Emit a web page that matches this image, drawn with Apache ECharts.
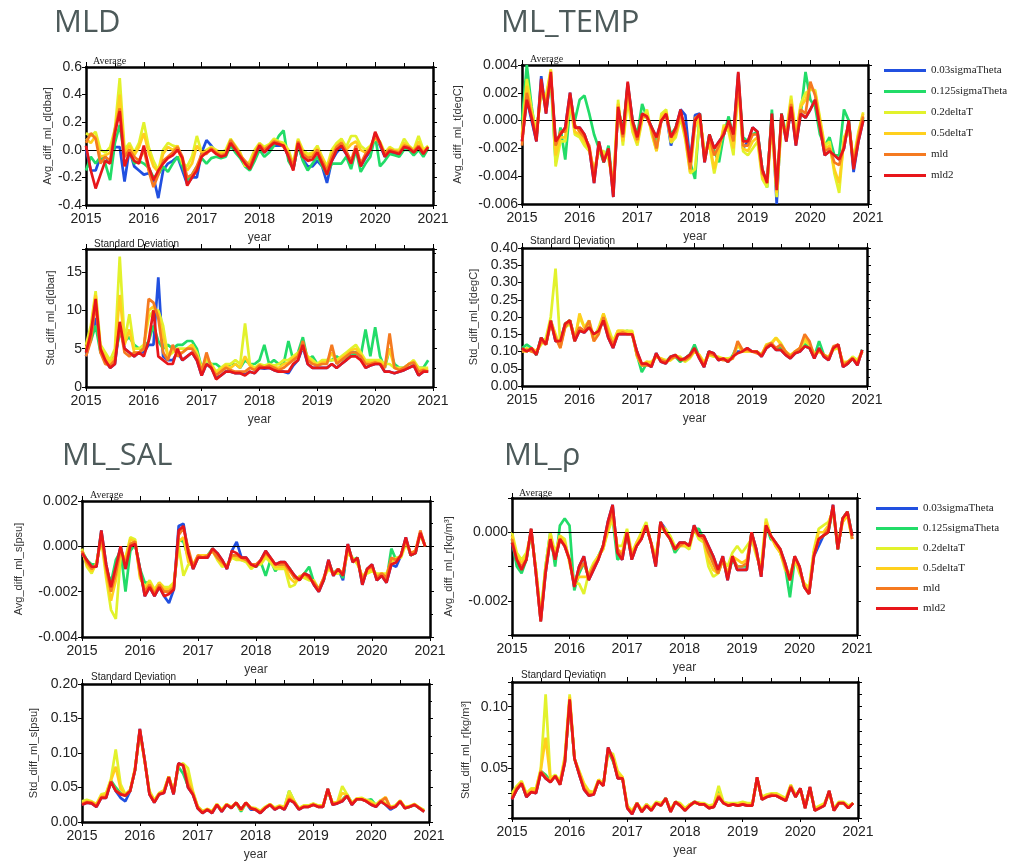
<!DOCTYPE html>
<html><head><meta charset="utf-8">
<script src="https://cdn.jsdelivr.net/npm/echarts@6/dist/echarts.min.js"></script>
<style>html,body{margin:0;padding:0;background:#fff}#c{width:1022px;height:862px}</style>
</head><body><div id="c"></div>
<script>
// ---------- categories / ticks ----------
const yearTicks = [2015, 2016, 2017, 2018, 2019, 2020, 2021];
const seriesNames = ['0.03sigmaTheta', '0.125sigmaTheta', '0.2deltaT', '0.5deltaT', 'mld', 'mld2'];
const panelTitles = ['MLD', 'ML_TEMP', 'ML_SAL', 'ML_\u03c1'];

// ---------- MLD average [dbar] ----------
const mldAvg_sig003 = [
0.00,-0.15,-0.15,-0.05,-0.05,-0.10,0.02,0.02,-0.23,0.00,-0.12,-0.15,
-0.18,-0.17,-0.20,-0.35,-0.15,-0.10,-0.08,-0.05,-0.15,-0.25,-0.20,-0.20,
-0.02,0.07,0.03,-0.02,-0.05,-0.04,0.04,0.00,-0.05,-0.10,-0.13,-0.05,
0.02,-0.02,0.01,0.03,0.03,0.03,-0.05,-0.14,0.03,-0.07,-0.12,-0.12,
-0.08,-0.12,-0.24,-0.08,-0.02,0.02,-0.03,-0.10,0.00,-0.12,-0.06,-0.01,
0.12,0.03,-0.05,-0.02,-0.03,-0.03,0.01,0.01,-0.03,0.01,-0.04,0.01];
const mldAvg_sig0125 = [
-0.15,-0.05,-0.10,-0.05,-0.10,-0.22,0.05,0.18,-0.05,0.00,-0.10,-0.08,
-0.10,-0.13,-0.20,-0.18,-0.12,-0.16,-0.10,-0.05,-0.12,-0.22,-0.18,-0.12,
-0.06,-0.10,-0.06,-0.05,-0.06,-0.05,0.03,-0.02,-0.06,-0.12,-0.15,-0.08,
0.00,-0.05,-0.02,0.03,0.10,0.14,-0.08,-0.14,0.03,-0.08,-0.15,-0.10,
-0.05,-0.12,-0.18,-0.10,-0.10,-0.10,-0.05,-0.14,0.00,-0.16,-0.10,-0.05,
0.10,-0.12,-0.08,-0.03,-0.04,-0.05,0.00,0.00,-0.04,0.00,-0.05,0.01];
const mldAvg_dT02 = [
0.12,0.10,0.13,0.00,-0.02,0.02,0.15,0.52,0.00,0.05,-0.02,0.05,
0.20,0.02,-0.08,-0.15,0.00,0.05,0.03,0.02,-0.10,-0.12,-0.05,0.10,
-0.02,0.00,0.02,0.00,-0.02,0.00,0.08,0.03,-0.02,-0.12,-0.08,0.00,
0.05,0.02,0.04,0.08,0.06,0.05,0.00,-0.10,0.08,0.00,-0.03,-0.02,
0.03,-0.05,-0.12,0.00,0.05,0.08,0.02,0.10,0.10,0.03,0.00,0.03,
0.08,0.06,-0.02,0.02,0.00,0.00,0.08,0.03,0.00,0.10,0.00,0.03];
const mldAvg_dT05 = [
0.08,0.05,0.10,-0.05,-0.04,-0.02,0.12,0.40,-0.03,0.03,-0.04,0.02,
0.12,-0.02,-0.12,-0.16,-0.03,0.02,0.00,0.03,-0.08,-0.15,-0.10,0.03,
-0.02,-0.01,0.01,-0.01,-0.03,-0.02,0.06,0.02,-0.03,-0.10,-0.10,-0.02,
0.04,0.01,0.03,0.07,0.05,0.04,-0.02,-0.12,0.07,-0.02,-0.05,-0.03,
0.01,-0.06,-0.14,-0.03,0.03,0.06,0.00,0.04,0.06,0.00,-0.02,0.02,
0.10,0.05,-0.03,0.01,-0.01,-0.01,0.05,0.02,-0.01,0.06,-0.01,0.02];
const mldAvg_mld = [
0.05,0.12,0.08,-0.10,-0.05,-0.08,0.15,0.30,-0.05,0.00,-0.05,-0.08,
0.00,-0.15,-0.27,-0.18,-0.08,-0.05,-0.02,0.02,-0.05,-0.20,-0.18,-0.12,
-0.03,-0.03,0.01,-0.02,-0.04,-0.03,0.07,0.02,-0.04,-0.08,-0.12,-0.03,
0.04,0.00,0.03,0.06,0.05,0.02,-0.03,-0.12,0.06,-0.03,-0.06,-0.05,
0.00,-0.08,-0.15,-0.05,0.02,0.05,-0.01,-0.08,0.03,-0.10,-0.03,0.01,
0.10,0.04,-0.03,0.00,-0.01,-0.02,0.03,0.02,-0.01,0.03,-0.02,0.02];
const mldAvg_mld2 = [
0.03,-0.15,-0.28,-0.18,-0.08,-0.10,0.12,0.28,-0.12,-0.02,-0.08,-0.10,
0.03,-0.12,-0.22,-0.15,-0.10,-0.06,-0.04,0.00,-0.06,-0.26,-0.20,-0.15,
-0.05,-0.02,0.00,-0.03,-0.05,-0.04,0.05,0.00,-0.05,-0.10,-0.14,-0.05,
0.03,-0.02,0.02,0.05,0.04,0.03,-0.05,-0.15,0.05,-0.05,-0.08,-0.07,
-0.02,-0.10,-0.18,-0.08,0.00,0.03,-0.03,-0.10,0.01,-0.12,-0.05,0.00,
0.13,0.05,-0.05,-0.01,-0.02,-0.03,0.02,0.01,-0.02,0.02,-0.03,0.02];

// ---------- MLD standard deviation [dbar] ----------
const mldStd_sig003 = [
4.0,6.5,9.0,5.0,3.5,2.5,3.0,8.0,5.0,4.5,4.0,4.5,
4.5,5.5,5.5,14.3,4.0,3.5,3.5,4.5,3.5,4.0,4.5,3.5,
1.5,3.0,2.5,1.2,1.5,2.0,2.0,1.8,1.8,1.6,2.0,1.8,
2.5,2.4,2.5,2.2,2.0,2.0,1.8,2.8,3.5,5.2,3.0,2.5,
2.5,2.5,2.5,3.0,2.5,3.0,3.5,4.5,4.5,4.0,2.5,2.8,
3.0,3.0,2.0,2.0,1.8,2.0,2.2,2.5,2.8,1.5,2.0,2.0];
const mldStd_sig0125 = [
5.0,6.0,8.0,4.5,4.0,3.5,4.0,7.0,6.0,6.5,5.5,5.0,
5.0,6.0,8.0,6.0,5.0,5.5,5.0,5.5,5.5,6.0,6.0,5.0,
2.5,3.5,3.0,3.0,2.5,2.5,3.0,3.0,2.5,3.5,3.0,3.0,
3.5,5.5,3.0,3.5,3.0,3.0,6.0,3.5,4.5,6.5,3.5,4.0,
3.0,3.0,3.5,3.5,4.0,3.5,4.0,4.0,4.5,4.0,7.5,4.0,
7.8,4.0,2.5,5.0,3.0,2.5,2.5,3.0,3.2,2.5,2.5,3.5];
const mldStd_dT02 = [
5.5,8.0,12.5,5.5,4.5,3.5,5.0,17.0,6.0,9.5,5.0,5.0,
5.5,9.0,10.0,10.0,8.0,4.0,4.5,5.0,5.0,5.0,5.5,4.5,
2.5,3.5,3.0,2.0,2.5,3.0,3.0,3.5,3.0,8.3,3.0,2.5,
3.0,2.8,3.0,2.8,3.0,3.5,3.5,4.0,4.5,5.0,4.0,3.5,
3.0,3.5,3.5,3.5,3.5,4.0,4.5,5.0,5.5,4.5,3.5,3.5,
3.5,3.5,3.0,3.0,2.5,2.5,2.5,3.0,3.5,2.5,2.5,2.5];
const mldStd_dT05 = [
5.0,7.5,12.0,5.0,4.0,3.0,4.0,12.0,5.5,7.5,4.5,4.5,
5.0,10.0,10.5,9.5,6.5,4.0,5.0,4.5,4.5,5.0,5.5,4.0,
2.2,4.0,2.8,1.8,2.2,2.8,2.5,3.0,2.5,4.0,2.8,2.3,
2.8,2.6,2.8,2.6,2.5,3.0,3.2,3.8,4.2,5.5,3.8,3.2,
2.8,3.2,3.2,4.5,3.2,3.8,4.2,4.8,5.0,4.2,3.2,3.2,
3.3,3.2,2.8,5.0,2.5,2.3,2.5,3.0,3.3,2.2,2.3,2.2];
const mldStd_mld = [
4.0,6.0,11.0,4.5,3.0,2.8,3.5,8.0,4.5,4.0,4.5,4.5,
5.0,11.5,11.0,9.0,4.5,3.5,5.5,4.0,4.5,5.0,5.0,4.0,
2.0,4.5,2.5,1.5,2.0,2.5,2.2,2.0,2.0,2.0,2.5,2.2,
2.8,2.5,2.8,2.5,2.2,2.5,3.0,3.5,4.0,6.0,3.5,3.0,
2.8,3.0,3.0,5.5,3.0,3.5,4.0,4.5,4.5,4.0,3.0,3.0,
3.2,3.0,2.5,7.0,2.5,2.2,2.5,3.0,3.2,2.0,2.2,2.0];
const mldStd_mld2 = [
4.5,7.0,11.5,5.0,3.5,2.5,3.0,8.5,5.0,4.5,4.0,4.5,
4.0,6.0,10.0,4.0,3.5,3.0,3.0,5.0,3.5,4.0,4.5,3.5,
1.5,3.0,2.5,1.0,1.5,2.0,2.0,1.8,1.8,1.5,2.0,1.8,
2.5,2.5,2.5,2.2,2.0,2.0,2.0,3.0,3.5,5.5,3.0,2.5,
2.5,2.5,2.5,3.0,2.5,3.0,3.5,4.0,4.0,3.5,2.5,2.8,
3.0,3.0,2.0,2.0,1.8,2.0,2.2,2.5,2.8,1.5,2.0,2.0];

// ---------- ML_TEMP average [degC] ----------
const tmpAvg_sig003 = [
-0.0015,0.0015,0.0000,-0.0015,0.0032,0.0005,0.0033,-0.0015,-0.0010,-0.0005,0.0020,-0.0005,
-0.0005,-0.0010,-0.0020,-0.0045,-0.0015,-0.0030,-0.0020,-0.0055,0.0010,-0.0010,0.0027,0.0000,
-0.0012,0.0005,0.0003,-0.0005,-0.0012,0.0000,0.0005,-0.0018,-0.0005,0.0008,0.0004,-0.0030,
0.0004,0.0005,-0.0030,-0.0010,-0.0020,-0.0015,-0.0010,0.0000,-0.0010,0.0034,-0.0020,-0.0015,
-0.0005,-0.0008,-0.0035,-0.0045,0.0005,-0.0060,0.0005,-0.0015,0.0010,-0.0018,0.0005,0.0002,
0.0008,0.0015,-0.0005,-0.0025,-0.0022,-0.0025,-0.0028,-0.0020,0.0000,-0.0037,-0.0015,0.0000];
const tmpAvg_sig0125 = [
0.0000,0.0040,0.0010,-0.0012,0.0025,0.0008,0.0030,-0.0030,-0.0005,-0.0028,0.0010,0.0000,
0.0015,0.0018,0.0005,-0.0010,-0.0020,-0.0030,-0.0018,-0.0050,0.0010,-0.0008,0.0025,0.0000,
-0.0010,0.0012,0.0002,-0.0005,-0.0015,0.0000,0.0005,-0.0010,-0.0005,0.0006,-0.0008,-0.0030,
-0.0042,0.0005,-0.0028,-0.0010,-0.0022,-0.0030,-0.0010,0.0003,-0.0012,0.0030,-0.0012,-0.0015,
-0.0010,-0.0008,-0.0035,-0.0048,0.0008,-0.0052,0.0005,-0.0010,0.0010,-0.0015,0.0005,0.0035,
0.0015,0.0010,-0.0010,-0.0018,-0.0012,-0.0025,-0.0025,0.0008,0.0000,-0.0032,-0.0012,0.0002];
const tmpAvg_dT02 = [
-0.0010,0.0030,0.0008,-0.0008,0.0020,0.0018,0.0037,-0.0033,-0.0015,-0.0015,0.0012,-0.0010,
-0.0012,-0.0018,-0.0022,-0.0035,-0.0022,-0.0022,-0.0028,-0.0045,0.0015,-0.0018,0.0015,-0.0008,
-0.0018,0.0000,0.0008,-0.0010,-0.0022,0.0005,0.0008,-0.0016,-0.0012,0.0002,-0.0014,-0.0038,
-0.0035,0.0002,-0.0022,-0.0018,-0.0038,-0.0022,-0.0003,-0.0008,-0.0025,0.0025,-0.0022,-0.0025,
-0.0020,-0.0015,-0.0042,-0.0048,-0.0002,-0.0055,-0.0002,-0.0008,0.0018,-0.0010,0.0012,0.0020,
0.0022,0.0022,0.0002,-0.0018,-0.0015,-0.0038,-0.0052,-0.0012,-0.0005,-0.0028,-0.0008,0.0006];
const tmpAvg_dT05 = [
-0.0012,0.0025,0.0005,-0.0010,0.0022,0.0015,0.0036,-0.0025,-0.0012,-0.0012,0.0015,-0.0008,
-0.0010,-0.0015,-0.0020,-0.0038,-0.0020,-0.0025,-0.0025,-0.0048,0.0012,-0.0015,0.0020,-0.0005,
-0.0016,0.0002,0.0005,-0.0008,-0.0022,0.0003,0.0006,-0.0015,-0.0010,0.0004,-0.0012,-0.0037,
-0.0005,0.0003,-0.0025,-0.0015,-0.0035,-0.0020,-0.0005,-0.0005,-0.0020,0.0028,-0.0020,-0.0022,
-0.0015,-0.0012,-0.0040,-0.0045,0.0000,-0.0052,0.0000,-0.0010,0.0015,-0.0012,0.0010,0.0015,
0.0025,0.0020,0.0000,-0.0020,-0.0018,-0.0035,-0.0045,-0.0015,-0.0003,-0.0030,-0.0010,0.0005];
const tmpAvg_mld = [
-0.0018,0.0020,0.0003,-0.0012,0.0025,0.0010,0.0032,-0.0018,-0.0008,-0.0008,0.0018,-0.0003,
-0.0008,-0.0012,-0.0018,-0.0040,-0.0018,-0.0028,-0.0022,-0.0050,0.0008,-0.0012,0.0025,-0.0002,
-0.0014,0.0004,0.0002,-0.0006,-0.0020,0.0000,0.0003,-0.0012,-0.0008,0.0006,-0.0010,-0.0035,
0.0002,0.0004,-0.0028,-0.0012,-0.0025,-0.0018,-0.0008,-0.0002,-0.0015,0.0030,-0.0018,-0.0018,
-0.0010,-0.0010,-0.0038,-0.0042,0.0002,-0.0048,0.0003,-0.0012,0.0012,-0.0015,0.0008,0.0005,
0.0028,0.0018,-0.0003,-0.0022,-0.0020,-0.0030,-0.0032,-0.0018,-0.0002,-0.0032,-0.0012,0.0003];
const tmpAvg_mld2 = [
-0.0015,0.0015,0.0002,-0.0015,0.0030,0.0005,0.0035,-0.0015,-0.0010,-0.0005,0.0020,-0.0005,
-0.0005,-0.0010,-0.0020,-0.0045,-0.0015,-0.0030,-0.0020,-0.0055,0.0010,-0.0010,0.0028,0.0000,
-0.0012,0.0005,0.0003,-0.0005,-0.0012,0.0000,0.0005,-0.0012,-0.0005,0.0008,-0.0008,-0.0030,
0.0000,0.0005,-0.0030,-0.0010,-0.0020,-0.0015,-0.0010,0.0000,-0.0010,0.0035,-0.0015,-0.0015,
-0.0005,-0.0008,-0.0035,-0.0045,0.0005,-0.0050,0.0005,-0.0015,0.0010,-0.0018,0.0005,0.0002,
0.0008,0.0015,-0.0005,-0.0025,-0.0022,-0.0025,-0.0028,-0.0020,0.0000,-0.0035,-0.0015,0.0000];

// ---------- ML_TEMP standard deviation [degC] ----------
const tmpStd_sig003 = [
0.11,0.10,0.11,0.09,0.14,0.12,0.19,0.13,0.13,0.18,0.19,0.13,
0.16,0.155,0.17,0.15,0.16,0.19,0.14,0.11,0.15,0.15,0.15,0.15,
0.10,0.06,0.065,0.055,0.095,0.07,0.065,0.085,0.09,0.075,0.08,0.09,
0.11,0.08,0.055,0.10,0.095,0.075,0.08,0.07,0.085,0.10,0.10,0.11,
0.10,0.10,0.085,0.11,0.12,0.105,0.105,0.09,0.08,0.095,0.10,0.115,
0.11,0.08,0.11,0.085,0.075,0.11,0.12,0.055,0.065,0.08,0.06,0.105];
const tmpStd_sig0125 = [
0.11,0.12,0.11,0.09,0.14,0.12,0.19,0.14,0.12,0.18,0.19,0.14,
0.16,0.16,0.18,0.14,0.16,0.20,0.15,0.12,0.15,0.155,0.16,0.15,
0.09,0.04,0.065,0.06,0.09,0.075,0.07,0.085,0.085,0.07,0.08,0.09,
0.12,0.085,0.06,0.10,0.09,0.08,0.08,0.07,0.09,0.12,0.10,0.105,
0.10,0.10,0.09,0.115,0.12,0.11,0.11,0.095,0.085,0.10,0.105,0.125,
0.11,0.085,0.13,0.09,0.08,0.11,0.115,0.06,0.065,0.08,0.065,0.105];
const tmpStd_dT02 = [
0.10,0.11,0.10,0.10,0.12,0.14,0.20,0.34,0.12,0.17,0.18,0.14,
0.20,0.17,0.19,0.14,0.17,0.21,0.17,0.13,0.16,0.16,0.16,0.16,
0.085,0.06,0.07,0.07,0.085,0.08,0.075,0.075,0.085,0.085,0.07,0.08,
0.10,0.09,0.07,0.09,0.085,0.085,0.08,0.08,0.085,0.12,0.10,0.10,
0.10,0.10,0.09,0.12,0.125,0.14,0.125,0.10,0.09,0.10,0.11,0.13,
0.12,0.095,0.10,0.09,0.085,0.105,0.11,0.07,0.07,0.085,0.075,0.10];
const tmpStd_dT05 = [
0.10,0.10,0.11,0.10,0.13,0.13,0.19,0.15,0.11,0.18,0.19,0.13,
0.21,0.17,0.18,0.13,0.16,0.21,0.16,0.12,0.16,0.16,0.155,0.155,
0.09,0.06,0.07,0.065,0.085,0.08,0.07,0.075,0.09,0.08,0.075,0.085,
0.10,0.09,0.065,0.09,0.09,0.08,0.08,0.075,0.08,0.12,0.10,0.10,
0.10,0.10,0.09,0.12,0.12,0.14,0.12,0.10,0.085,0.10,0.11,0.14,
0.12,0.09,0.10,0.09,0.08,0.11,0.115,0.065,0.07,0.08,0.07,0.10];
const tmpStd_mld = [
0.10,0.105,0.10,0.095,0.13,0.12,0.18,0.14,0.11,0.17,0.19,0.14,
0.17,0.16,0.19,0.13,0.15,0.20,0.15,0.12,0.15,0.155,0.15,0.15,
0.09,0.06,0.06,0.06,0.09,0.075,0.07,0.08,0.085,0.08,0.075,0.085,
0.105,0.085,0.06,0.095,0.09,0.08,0.075,0.075,0.08,0.13,0.105,0.105,
0.10,0.095,0.09,0.115,0.125,0.11,0.12,0.10,0.085,0.10,0.11,0.15,
0.13,0.085,0.105,0.09,0.08,0.115,0.12,0.06,0.07,0.08,0.065,0.10];
const tmpStd_mld2 = [
0.11,0.10,0.11,0.09,0.14,0.12,0.19,0.13,0.13,0.18,0.19,0.13,
0.16,0.155,0.17,0.15,0.16,0.19,0.14,0.11,0.15,0.15,0.15,0.15,
0.10,0.065,0.065,0.055,0.095,0.07,0.065,0.085,0.09,0.075,0.08,0.09,
0.11,0.08,0.055,0.10,0.095,0.075,0.08,0.07,0.085,0.095,0.10,0.11,
0.10,0.10,0.085,0.11,0.12,0.105,0.105,0.09,0.08,0.095,0.10,0.115,
0.11,0.08,0.11,0.085,0.075,0.11,0.12,0.055,0.065,0.08,0.06,0.105];

// ---------- ML_SAL average [psu] ----------
const salAvg_sig003 = [
-0.0003,-0.0006,-0.0009,-0.0009,0.0007,-0.0008,-0.0018,-0.0009,0.0000,-0.0010,0.0000,0.0001,
-0.0010,-0.0022,-0.0018,-0.0022,-0.0018,-0.0022,-0.0025,-0.0019,0.0009,0.0010,-0.0003,-0.0010,
-0.0005,-0.0005,-0.0005,-0.0001,-0.0003,-0.0006,-0.0010,-0.0002,0.0002,-0.0005,-0.0005,-0.0008,
-0.0009,-0.0006,-0.0002,-0.0005,-0.0008,-0.0007,-0.0007,-0.0010,-0.0013,-0.0015,-0.0012,-0.0013,
-0.0017,-0.0020,-0.0015,-0.0006,-0.0013,-0.0010,-0.0015,0.0001,-0.0007,-0.0005,-0.0017,-0.0010,
-0.0008,-0.0015,-0.0013,-0.0016,-0.0008,-0.0009,-0.0004,0.0004,-0.0004,-0.0003,0.0006,0.0000];
const salAvg_sig0125 = [
-0.0002,-0.0006,-0.0008,-0.0008,0.0006,-0.0010,-0.0016,-0.0006,-0.0002,-0.0020,-0.0002,0.0001,
-0.0010,-0.0016,-0.0016,-0.0020,-0.0016,-0.0020,-0.0020,-0.0018,0.0003,0.0002,-0.0005,-0.0009,
-0.0005,-0.0005,-0.0004,-0.0001,-0.0004,-0.0007,-0.0009,-0.0004,-0.0005,-0.0006,-0.0006,-0.0009,
-0.0009,-0.0007,-0.0013,-0.0006,-0.0011,-0.0008,-0.0008,-0.0010,-0.0014,-0.0014,-0.0012,-0.0009,
-0.0016,-0.0019,-0.0015,-0.0007,-0.0012,-0.0010,-0.0014,0.0000,-0.0006,-0.0005,-0.0016,-0.0010,
-0.0009,-0.0014,-0.0013,-0.0015,-0.0001,-0.0006,-0.0004,0.0003,-0.0004,-0.0003,0.0006,0.0000];
const salAvg_dT02 = [
-0.0001,-0.0009,-0.0012,-0.0007,0.0003,-0.0014,-0.0028,-0.0032,-0.0004,-0.0005,0.0004,0.0003,
-0.0014,-0.0018,-0.0015,-0.0019,-0.0016,-0.0018,-0.0018,-0.0016,0.0000,-0.0013,-0.0008,-0.0008,
-0.0005,-0.0004,-0.0004,-0.0002,-0.0006,-0.0009,-0.0008,-0.0005,-0.0006,-0.0006,-0.0007,-0.0010,
-0.0008,-0.0008,-0.0005,-0.0007,-0.0010,-0.0010,-0.0010,-0.0018,-0.0017,-0.0013,-0.0014,-0.0015,
-0.0015,-0.0019,-0.0014,-0.0010,-0.0012,-0.0012,-0.0011,-0.0003,-0.0005,-0.0008,-0.0013,-0.0012,
-0.0011,-0.0012,-0.0012,-0.0012,-0.0007,-0.0005,-0.0005,0.0001,-0.0003,-0.0002,0.0005,0.0000];
const salAvg_dT05 = [
-0.0002,-0.0008,-0.0011,-0.0008,0.0004,-0.0012,-0.0024,-0.0015,-0.0002,-0.0006,0.0003,0.0002,
-0.0013,-0.0019,-0.0016,-0.0020,-0.0016,-0.0019,-0.0019,-0.0017,0.0002,0.0004,-0.0007,-0.0008,
-0.0004,-0.0004,-0.0004,-0.0002,-0.0005,-0.0008,-0.0009,-0.0004,-0.0005,-0.0006,-0.0006,-0.0009,
-0.0008,-0.0007,-0.0004,-0.0006,-0.0009,-0.0009,-0.0009,-0.0014,-0.0016,-0.0014,-0.0013,-0.0014,
-0.0016,-0.0019,-0.0014,-0.0009,-0.0012,-0.0011,-0.0012,-0.0002,-0.0006,-0.0007,-0.0014,-0.0011,
-0.0010,-0.0013,-0.0012,-0.0013,-0.0006,-0.0006,-0.0004,0.0002,-0.0003,-0.0002,0.0006,0.0000];
const salAvg_mld = [
-0.0002,-0.0007,-0.0010,-0.0008,0.0005,-0.0010,-0.0020,-0.0012,-0.0001,-0.0008,0.0001,0.0002,
-0.0012,-0.0020,-0.0017,-0.0021,-0.0017,-0.0020,-0.0020,-0.0018,0.0005,0.0008,-0.0001,-0.0009,
-0.0004,-0.0005,-0.0004,-0.0002,-0.0005,-0.0007,-0.0009,-0.0004,-0.0004,-0.0005,-0.0006,-0.0008,
-0.0008,-0.0006,-0.0003,-0.0005,-0.0008,-0.0008,-0.0008,-0.0011,-0.0014,-0.0014,-0.0012,-0.0014,
-0.0016,-0.0019,-0.0014,-0.0008,-0.0012,-0.0010,-0.0012,0.0000,-0.0006,-0.0006,-0.0015,-0.0010,
-0.0009,-0.0014,-0.0012,-0.0014,-0.0005,-0.0006,-0.0004,0.0003,-0.0003,-0.0002,0.0007,0.0000];
const salAvg_mld2 = [
-0.0003,-0.0006,-0.0009,-0.0009,0.0007,-0.0008,-0.0018,-0.0009,0.0000,-0.0010,0.0000,0.0001,
-0.0010,-0.0022,-0.0018,-0.0022,-0.0018,-0.0022,-0.0021,-0.0019,0.0007,0.0009,-0.0003,-0.0010,
-0.0005,-0.0005,-0.0005,-0.0001,-0.0003,-0.0006,-0.0010,-0.0002,-0.0003,-0.0005,-0.0005,-0.0008,
-0.0009,-0.0006,-0.0002,-0.0005,-0.0008,-0.0007,-0.0007,-0.0010,-0.0013,-0.0015,-0.0012,-0.0013,
-0.0017,-0.0020,-0.0015,-0.0006,-0.0013,-0.0010,-0.0013,0.0001,-0.0007,-0.0005,-0.0017,-0.0010,
-0.0008,-0.0015,-0.0013,-0.0016,-0.0008,-0.0007,-0.0004,0.0004,-0.0004,-0.0003,0.0006,0.0000];

// ---------- ML_SAL standard deviation [psu] ----------
const salStd_sig003 = [
0.025,0.028,0.027,0.022,0.035,0.035,0.058,0.045,0.035,0.030,0.045,0.075,
0.135,0.090,0.040,0.028,0.040,0.042,0.065,0.040,0.085,0.082,0.050,0.040,
0.020,0.013,0.018,0.013,0.025,0.015,0.025,0.020,0.028,0.018,0.028,0.018,
0.018,0.013,0.020,0.025,0.018,0.022,0.018,0.032,0.028,0.018,0.022,0.022,
0.025,0.022,0.022,0.048,0.025,0.027,0.030,0.038,0.025,0.033,0.033,0.030,
0.025,0.022,0.030,0.025,0.018,0.022,0.030,0.020,0.022,0.025,0.020,0.015];
const salStd_sig0125 = [
0.028,0.030,0.028,0.024,0.036,0.037,0.060,0.050,0.042,0.038,0.046,0.075,
0.132,0.090,0.042,0.030,0.041,0.044,0.066,0.042,0.080,0.070,0.052,0.042,
0.022,0.015,0.018,0.015,0.025,0.017,0.025,0.021,0.027,0.015,0.027,0.020,
0.019,0.015,0.021,0.025,0.020,0.023,0.020,0.045,0.030,0.019,0.023,0.023,
0.026,0.023,0.023,0.046,0.027,0.028,0.032,0.040,0.027,0.033,0.034,0.031,
0.033,0.024,0.031,0.026,0.021,0.023,0.030,0.021,0.022,0.025,0.020,0.017];
const salStd_dT02 = [
0.030,0.032,0.030,0.026,0.040,0.042,0.062,0.105,0.055,0.040,0.047,0.078,
0.130,0.088,0.045,0.032,0.042,0.046,0.066,0.045,0.082,0.085,0.078,0.045,
0.023,0.016,0.019,0.016,0.026,0.018,0.026,0.022,0.028,0.017,0.027,0.021,
0.020,0.016,0.022,0.026,0.021,0.024,0.022,0.045,0.031,0.020,0.024,0.024,
0.027,0.024,0.024,0.046,0.028,0.029,0.052,0.040,0.028,0.034,0.035,0.032,
0.030,0.025,0.032,0.027,0.022,0.024,0.031,0.022,0.023,0.026,0.021,0.017];
const salStd_dT05 = [
0.028,0.030,0.029,0.025,0.038,0.040,0.060,0.080,0.048,0.040,0.046,0.076,
0.132,0.089,0.043,0.030,0.041,0.045,0.066,0.043,0.083,0.083,0.065,0.043,
0.022,0.015,0.019,0.015,0.026,0.017,0.026,0.021,0.028,0.017,0.028,0.021,
0.019,0.015,0.021,0.026,0.020,0.023,0.021,0.038,0.030,0.019,0.023,0.023,
0.026,0.023,0.023,0.047,0.027,0.028,0.042,0.039,0.027,0.034,0.034,0.031,
0.028,0.024,0.031,0.036,0.021,0.023,0.031,0.021,0.023,0.026,0.021,0.016];
const salStd_mld = [
0.026,0.029,0.028,0.023,0.036,0.036,0.059,0.046,0.041,0.039,0.045,0.076,
0.133,0.089,0.041,0.029,0.041,0.043,0.065,0.041,0.084,0.083,0.055,0.041,
0.021,0.014,0.018,0.014,0.025,0.016,0.025,0.021,0.028,0.018,0.028,0.020,
0.018,0.014,0.020,0.025,0.019,0.022,0.019,0.034,0.029,0.019,0.022,0.022,
0.025,0.022,0.022,0.048,0.026,0.028,0.032,0.038,0.026,0.033,0.033,0.030,
0.026,0.023,0.030,0.035,0.020,0.022,0.030,0.020,0.022,0.025,0.020,0.015];
const salStd_mld2 = [
0.025,0.028,0.027,0.022,0.035,0.035,0.058,0.045,0.040,0.038,0.045,0.075,
0.135,0.090,0.040,0.028,0.040,0.042,0.065,0.040,0.085,0.082,0.050,0.040,
0.020,0.013,0.018,0.013,0.025,0.015,0.025,0.020,0.028,0.018,0.028,0.020,
0.018,0.013,0.020,0.025,0.018,0.022,0.018,0.032,0.028,0.018,0.022,0.022,
0.025,0.022,0.022,0.048,0.025,0.027,0.030,0.038,0.025,0.033,0.033,0.030,
0.025,0.022,0.030,0.025,0.020,0.022,0.030,0.020,0.022,0.025,0.020,0.015];

// ---------- ML_rho average [kg/m3] ----------
const rhoAvg_sig003 = [
-0.0003,-0.0009,-0.0011,-0.0008,0.0001,-0.0012,-0.0026,-0.0012,-0.0002,-0.0008,-0.0002,-0.0004,
-0.0008,-0.0016,-0.0010,-0.0007,-0.0014,-0.0011,-0.0008,-0.0004,0.0003,0.0008,-0.0006,-0.0008,
0.0000,-0.0008,-0.0004,-0.0002,0.0002,-0.0003,-0.0010,0.0003,0.0001,-0.0002,-0.0005,-0.0003,
-0.0003,-0.0004,0.0002,-0.0001,-0.0001,-0.0004,-0.0007,-0.0011,-0.0007,-0.0014,-0.0007,-0.0011,
-0.0011,-0.0011,0.0000,-0.0005,-0.0013,0.0002,-0.0001,-0.0003,-0.0005,-0.0009,-0.0014,-0.0007,
-0.0010,-0.0016,-0.0018,-0.0007,-0.0004,-0.0001,0.0000,0.0008,-0.0005,0.0004,0.0006,-0.0001];
const rhoAvg_sig0125 = [
-0.0002,-0.0010,-0.0012,-0.0008,0.0000,-0.0011,-0.0025,-0.0010,0.0000,-0.0010,0.0002,0.0004,
0.0002,-0.0017,-0.0012,-0.0009,-0.0013,-0.0010,-0.0007,-0.0004,0.0002,0.0004,-0.0008,-0.0007,
0.0000,-0.0007,-0.0004,-0.0001,0.0002,-0.0003,-0.0008,0.0002,0.0000,-0.0002,-0.0006,-0.0004,
-0.0003,-0.0004,0.0001,0.0001,-0.0002,-0.0005,-0.0009,-0.0012,-0.0008,-0.0013,-0.0008,-0.0010,
-0.0010,-0.0010,0.0000,-0.0006,-0.0012,0.0002,-0.0002,-0.0003,-0.0006,-0.0010,-0.0019,-0.0008,
-0.0011,-0.0016,-0.0017,-0.0006,-0.0002,-0.0001,0.0000,0.0007,-0.0005,0.0004,0.0006,-0.0001];
const rhoAvg_dT02 = [
0.0000,-0.0006,-0.0008,-0.0006,0.0000,-0.0011,-0.0024,-0.0010,0.0000,-0.0006,-0.0001,-0.0002,
-0.0009,-0.0015,-0.0015,-0.0018,-0.0012,-0.0009,-0.0007,-0.0005,0.0000,0.0004,-0.0004,-0.0004,
0.0001,-0.0006,-0.0003,0.0000,0.0003,-0.0003,-0.0007,0.0002,0.0001,-0.0001,-0.0004,-0.0004,
-0.0004,-0.0005,0.0001,-0.0002,-0.0003,-0.0010,-0.0013,-0.0012,-0.0008,-0.0010,-0.0006,-0.0004,
-0.0006,-0.0004,-0.0002,-0.0007,-0.0010,0.0004,-0.0001,-0.0004,-0.0006,-0.0011,-0.0012,-0.0008,
-0.0012,-0.0015,-0.0016,-0.0005,0.0001,0.0002,0.0003,0.0006,-0.0004,0.0003,0.0005,-0.0002];
const rhoAvg_dT05 = [
-0.0001,-0.0007,-0.0009,-0.0007,0.0000,-0.0011,-0.0025,-0.0011,-0.0001,-0.0007,-0.0001,-0.0003,
-0.0008,-0.0015,-0.0013,-0.0013,-0.0013,-0.0010,-0.0007,-0.0005,0.0001,0.0005,-0.0005,-0.0006,
0.0000,-0.0007,-0.0003,-0.0001,0.0002,-0.0003,-0.0008,0.0002,0.0000,-0.0002,-0.0005,-0.0004,
-0.0004,-0.0004,0.0001,-0.0001,-0.0002,-0.0008,-0.0011,-0.0012,-0.0008,-0.0012,-0.0007,-0.0008,
-0.0009,-0.0008,-0.0001,-0.0006,-0.0011,0.0003,-0.0001,-0.0004,-0.0006,-0.0010,-0.0013,-0.0008,
-0.0011,-0.0015,-0.0017,-0.0006,0.0000,0.0000,0.0002,0.0007,-0.0004,0.0003,0.0005,-0.0002];
const rhoAvg_mld = [
-0.0002,-0.0008,-0.0010,-0.0008,0.0001,-0.0012,-0.0026,-0.0011,-0.0002,-0.0008,-0.0002,-0.0004,
-0.0008,-0.0015,-0.0011,-0.0009,-0.0013,-0.0010,-0.0008,-0.0004,0.0002,0.0006,-0.0005,-0.0007,
0.0000,-0.0007,-0.0004,-0.0002,0.0002,-0.0003,-0.0009,0.0003,0.0000,-0.0002,-0.0005,-0.0004,
-0.0003,-0.0004,0.0001,-0.0001,-0.0002,-0.0006,-0.0009,-0.0012,-0.0008,-0.0013,-0.0007,-0.0010,
-0.0010,-0.0009,0.0000,-0.0006,-0.0012,0.0002,-0.0001,-0.0003,-0.0005,-0.0010,-0.0014,-0.0007,
-0.0010,-0.0016,-0.0018,-0.0007,-0.0002,-0.0001,0.0001,0.0007,-0.0005,0.0004,0.0006,-0.0002];
const rhoAvg_mld2 = [
-0.0003,-0.0008,-0.0011,-0.0008,0.0001,-0.0012,-0.0026,-0.0012,-0.0002,-0.0008,-0.0002,-0.0004,
-0.0008,-0.0016,-0.0010,-0.0007,-0.0014,-0.0011,-0.0008,-0.0004,0.0003,0.0008,-0.0006,-0.0008,
0.0000,-0.0008,-0.0004,-0.0002,0.0002,-0.0003,-0.0010,0.0003,0.0000,-0.0002,-0.0005,-0.0003,
-0.0003,-0.0004,0.0002,-0.0001,-0.0001,-0.0004,-0.0007,-0.0011,-0.0007,-0.0014,-0.0007,-0.0011,
-0.0011,-0.0011,0.0000,-0.0005,-0.0013,0.0002,-0.0001,-0.0003,-0.0005,-0.0009,-0.0014,-0.0007,
-0.0010,-0.0016,-0.0018,-0.0007,-0.0002,-0.0001,0.0000,0.0008,-0.0005,0.0004,0.0006,-0.0001];

// ---------- ML_rho standard deviation [kg/m3] ----------
const rhoStd_sig003 = [
0.025,0.033,0.038,0.027,0.031,0.030,0.047,0.042,0.039,0.044,0.037,0.055,
0.106,0.058,0.045,0.033,0.028,0.029,0.040,0.036,0.067,0.058,0.042,0.042,
0.018,0.013,0.022,0.015,0.020,0.016,0.022,0.020,0.026,0.015,0.023,0.020,
0.016,0.020,0.023,0.021,0.021,0.018,0.019,0.027,0.022,0.020,0.021,0.020,
0.021,0.020,0.020,0.043,0.025,0.027,0.028,0.028,0.026,0.024,0.035,0.027,
0.034,0.018,0.035,0.016,0.018,0.020,0.032,0.016,0.022,0.022,0.018,0.022];
const rhoStd_sig0125 = [
0.027,0.034,0.038,0.028,0.032,0.032,0.048,0.045,0.040,0.044,0.038,0.056,
0.104,0.058,0.046,0.035,0.030,0.030,0.040,0.037,0.064,0.056,0.044,0.042,
0.019,0.015,0.022,0.016,0.021,0.017,0.022,0.021,0.026,0.016,0.023,0.021,
0.017,0.021,0.023,0.022,0.021,0.019,0.020,0.033,0.022,0.021,0.021,0.021,
0.022,0.021,0.021,0.042,0.026,0.028,0.029,0.029,0.027,0.025,0.036,0.028,
0.033,0.019,0.034,0.017,0.019,0.021,0.031,0.017,0.022,0.022,0.019,0.022];
const rhoStd_dT02 = [
0.030,0.036,0.040,0.030,0.034,0.034,0.050,0.110,0.042,0.045,0.040,0.060,
0.110,0.058,0.048,0.038,0.032,0.031,0.041,0.038,0.062,0.062,0.048,0.043,
0.020,0.016,0.022,0.017,0.021,0.018,0.023,0.022,0.025,0.017,0.023,0.022,
0.018,0.021,0.022,0.022,0.022,0.020,0.021,0.036,0.023,0.022,0.022,0.022,
0.023,0.022,0.022,0.041,0.027,0.029,0.030,0.030,0.028,0.026,0.037,0.029,
0.032,0.020,0.033,0.018,0.020,0.022,0.030,0.018,0.023,0.023,0.020,0.022];
const rhoStd_dT05 = [
0.028,0.035,0.039,0.029,0.033,0.033,0.049,0.075,0.041,0.044,0.039,0.058,
0.108,0.058,0.047,0.037,0.031,0.030,0.041,0.037,0.064,0.060,0.046,0.043,
0.019,0.015,0.022,0.016,0.021,0.017,0.022,0.021,0.026,0.016,0.023,0.021,
0.017,0.021,0.023,0.022,0.021,0.019,0.020,0.030,0.022,0.021,0.021,0.021,
0.022,0.021,0.021,0.042,0.026,0.028,0.029,0.029,0.027,0.025,0.036,0.028,
0.033,0.019,0.034,0.017,0.019,0.021,0.031,0.017,0.022,0.022,0.019,0.022];
const rhoStd_mld = [
0.026,0.034,0.038,0.028,0.031,0.031,0.048,0.043,0.039,0.044,0.037,0.056,
0.105,0.058,0.046,0.034,0.029,0.029,0.040,0.036,0.066,0.057,0.043,0.042,
0.018,0.014,0.022,0.015,0.020,0.016,0.022,0.020,0.026,0.015,0.023,0.020,
0.016,0.020,0.023,0.021,0.021,0.018,0.019,0.028,0.022,0.020,0.021,0.020,
0.021,0.020,0.020,0.043,0.025,0.027,0.029,0.028,0.026,0.024,0.036,0.027,
0.034,0.018,0.035,0.016,0.018,0.020,0.032,0.016,0.022,0.022,0.018,0.022];
const rhoStd_mld2 = [
0.025,0.033,0.038,0.027,0.031,0.030,0.047,0.042,0.039,0.044,0.037,0.055,
0.106,0.058,0.045,0.033,0.028,0.029,0.040,0.036,0.067,0.058,0.042,0.042,
0.018,0.013,0.022,0.015,0.020,0.016,0.022,0.020,0.026,0.015,0.023,0.020,
0.016,0.020,0.023,0.021,0.021,0.018,0.019,0.027,0.022,0.020,0.021,0.020,
0.021,0.020,0.020,0.043,0.025,0.027,0.028,0.028,0.026,0.024,0.035,0.027,
0.034,0.018,0.035,0.016,0.018,0.020,0.032,0.016,0.022,0.022,0.018,0.022];

// ---------- styling (kept apart from data) ----------
const seriesColors = ['#2150e0', '#22dc68', '#e2f22c', '#ffd01e', '#f57a20', '#e8161a'];

const panels = [
  {box:[86, 67, 347, 138],  min:-0.4,   max:0.6,   step:0.2,   labelStep:0.2,   dec:1, yname:'Avg_diff_ml_d[dbar]',  ngap:33, zero:true,
   sub:'Average', subPos:[88, 51], data:[mldAvg_sig003, mldAvg_sig0125, mldAvg_dT02, mldAvg_dT05, mldAvg_mld, mldAvg_mld2]},
  {box:[86, 249, 347, 138], min:0,      max:18,    step:5,     labelStep:5,     dec:0, yname:'Std_diff_ml_d[dbar]',  ngap:30, zero:false,
   sub:'Standard Deviation', subPos:[89, 234], data:[mldStd_sig003, mldStd_sig0125, mldStd_dT02, mldStd_dT05, mldStd_mld, mldStd_mld2]},
  {box:[522, 65, 346, 139], min:-0.006, max:0.004, step:0.002, labelStep:0.002, dec:3, yname:'Avg_diff_ml_t[degC]',  ngap:59, zero:true,
   sub:'Average', subPos:[525, 49], data:[tmpAvg_sig003, tmpAvg_sig0125, tmpAvg_dT02, tmpAvg_dT05, tmpAvg_mld, tmpAvg_mld2]},
  {box:[522, 248, 345, 138], min:0,     max:0.40,  step:0.05,  labelStep:0.05,  dec:2, yname:'Std_diff_ml_t[degC]',  ngap:43, zero:false,
   sub:'Standard Deviation', subPos:[525, 231], data:[tmpStd_sig003, tmpStd_sig0125, tmpStd_dT02, tmpStd_dT05, tmpStd_mld, tmpStd_mld2]},
  {box:[82, 501, 348, 136], min:-0.004, max:0.002, step:0.002, labelStep:0.002, dec:3, yname:'Avg_diff_ml_s[psu]',   ngap:58, zero:true,
   sub:'Average', subPos:[85, 485], data:[salAvg_sig003, salAvg_sig0125, salAvg_dT02, salAvg_dT05, salAvg_mld, salAvg_mld2]},
  {box:[82, 684, 347, 138], min:0,      max:0.20,  step:0.05,  labelStep:0.05,  dec:2, yname:'Std_diff_ml_s[psu]',   ngap:43, zero:false,
   sub:'Standard Deviation', subPos:[86, 667], data:[salStd_sig003, salStd_sig0125, salStd_dT02, salStd_dT05, salStd_mld, salStd_mld2]},
  {box:[512, 498, 345, 137], min:-0.003, max:0.001, step:0.001, labelStep:0.002, dec:3, yname:'Avg_diff_ml_r[kg/m\u00b3]', ngap:58, zero:true,
   sub:'Average', subPos:[514, 483], data:[rhoAvg_sig003, rhoAvg_sig0125, rhoAvg_dT02, rhoAvg_dT05, rhoAvg_mld, rhoAvg_mld2]},
  {box:[512, 682, 346, 136], min:0.01,  max:0.12,  step:0.01,  labelStep:0.05,  dec:2, yname:'Std_diff_ml_r[kg/m\u00b3]', ngap:41, zero:false,
   sub:'Standard Deviation', subPos:[516, 665], data:[rhoStd_sig003, rhoStd_sig0125, rhoStd_dT02, rhoStd_dT05, rhoStd_mld, rhoStd_mld2]}
];

const grids = [], xAxes = [], yAxes = [], series = [], titles = [];
const axisLineStyle = {color:'#000', width:2.5};
const labelFont = {fontFamily:'Liberation Sans', fontSize:14, color:'#222'};

panels.forEach((p, k) => {
  grids.push({left:p.box[0], top:p.box[1], width:p.box[2], height:p.box[3], outerBoundsMode:'none'});
  xAxes.push({type:'value', gridIndex:k, position:'bottom', min:yearTicks[0], max:yearTicks[yearTicks.length-1], interval:1,
    name:'year', nameLocation:'middle', nameGap:27, nameTextStyle:{fontFamily:'Liberation Sans', fontSize:12, color:'#333'},
    axisLine:{show:true, onZero:false, lineStyle:axisLineStyle},
    axisTick:{show:true, length:4, lineStyle:{color:'#000', width:1}},
    minorTick:{show:false},
    axisLabel:Object.assign({margin:7, formatter:v => String(Math.round(v))}, labelFont),
    splitLine:{show:false}});
  xAxes.push({type:'value', gridIndex:k, position:'top', min:yearTicks[0], max:yearTicks[yearTicks.length-1], interval:1,
    axisLine:{show:true, onZero:false, lineStyle:axisLineStyle},
    axisTick:{show:true, length:5, lineStyle:{color:'#000', width:1}},
    minorTick:{show:true, splitNumber:2, length:4, lineStyle:{color:'#000', width:1}},
    axisLabel:{show:false}, splitLine:{show:false}});
  const fmt = v => {
    const r = v / p.labelStep;
    if (Math.abs(r - Math.round(r)) > 1e-6) return '';
    const vv = Math.abs(v) < 1e-12 ? 0 : v;
    return vv.toFixed(p.dec);
  };
  yAxes.push({type:'value', gridIndex:k, position:'left', min:p.min, max:p.max, interval:p.step,
    name:p.yname, nameLocation:'middle', nameRotate:90, nameGap:p.ngap,
    nameTextStyle:{fontFamily:'Liberation Sans', fontSize:11, color:'#333'},
    axisLine:{show:true, onZero:false, lineStyle:axisLineStyle},
    axisTick:{show:true, length:4, lineStyle:{color:'#000', width:1}},
    axisLabel:Object.assign({margin:4, formatter:fmt}, labelFont),
    splitLine:{show:false}});
  yAxes.push({type:'value', gridIndex:k, position:'right', min:p.min, max:p.max, interval:p.step,
    axisLine:{show:true, onZero:false, lineStyle:axisLineStyle},
    axisTick:{show:true, length:4, lineStyle:{color:'#000', width:1}},
    minorTick:{show:p.step === p.labelStep, splitNumber:2, length:3, lineStyle:{color:'#000', width:1}},
    axisLabel:{show:false}, splitLine:{show:false}});
  p.data.forEach((arr, s) => {
    const ser = {type:'line', name:seriesNames[s], xAxisIndex:2*k, yAxisIndex:2*k,
      data:arr.map((v, i) => [yearTicks[0] + i / 12, v]),
      showSymbol:false, symbol:'none', animation:false, silent:true,
      lineStyle:{color:seriesColors[s], width:2.7}, itemStyle:{color:seriesColors[s]}, z:2 + s};
    if (s === 0 && p.zero) {
      ser.markLine = {silent:true, symbol:['none','none'], label:{show:false}, animation:false,
        lineStyle:{color:'#000', width:1, type:'solid'}, data:[{yAxis:0}]};
    }
    series.push(ser);
  });
  titles.push({text:p.sub, left:p.subPos[0], top:p.subPos[1],
    textStyle:{fontFamily:p.sub === 'Average' ? 'Liberation Serif' : 'Liberation Sans', fontSize:10, fontWeight:'normal', color:'#222'}});
});

const bigTitlePos = [[49, 3], [496, 3], [57, 436], [499, 436]];
panelTitles.forEach((t, i) => {
  titles.push({text:t, left:bigTitlePos[i][0], top:bigTitlePos[i][1],
    textStyle:{fontFamily:'Open Sans', fontSize:31, fontWeight:'normal', color:'#4d5a5a'}});
});

const legendBase = {orient:'vertical', icon:'rect', itemWidth:42, itemHeight:3, data:seriesNames,
  textStyle:{fontFamily:'Liberation Serif', fontSize:11, color:'#222'}, selectedMode:false};
const legends = [
  Object.assign({left:879, top:60, itemGap:10}, legendBase),
  Object.assign({left:871, top:498, itemGap:9}, legendBase)
];

const chart = echarts.init(document.getElementById('c'), null, {renderer:'canvas'});
chart.setOption({
  animation:false,
  backgroundColor:'#fff',
  title:titles,
  legend:legends,
  grid:grids,
  xAxis:xAxes,
  yAxis:yAxes,
  series:series
});
</script>
</body></html>
